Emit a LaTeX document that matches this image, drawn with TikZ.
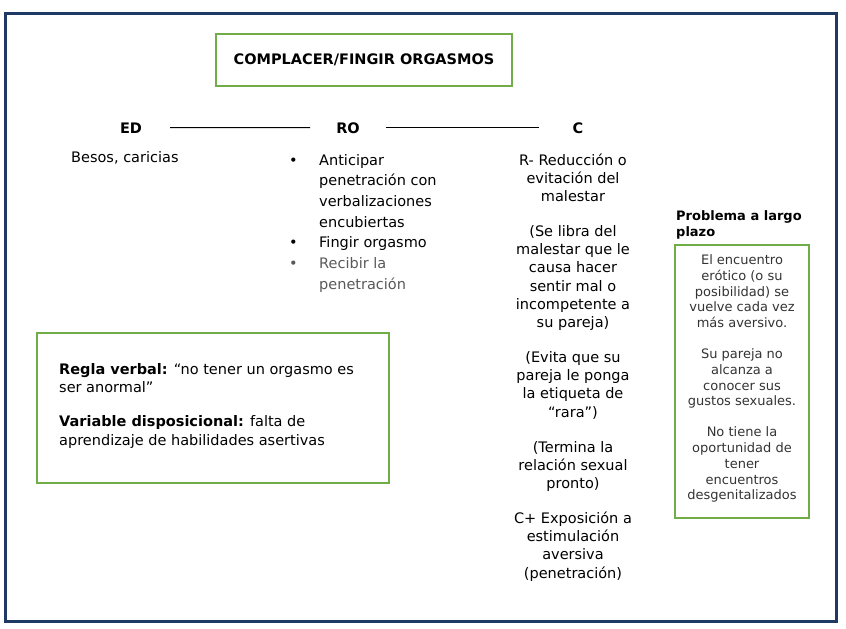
\documentclass[tikz,border=0pt]{standalone}
\usepackage{fontspec}
\setmainfont{DejaVu Sans}
\definecolor{framenavy}{RGB}{31,56,100}
\definecolor{boxgreen}{RGB}{112,173,71}
\definecolor{softgray}{RGB}{89,89,89}
\tikzset{
  greenbox/.style={draw=boxgreen, line width=1.6pt, inner sep=0pt},
  header/.style={font=\fontsize{14.5}{17}\selectfont\bfseries, inner sep=0pt, anchor=base},
  body/.style={font=\fontsize{14.5}{18.2}\selectfont, inner sep=0pt},
}
\newcommand{\robullet}{\makebox[30pt][l]{\textbullet}}
\begin{document}
\begin{tikzpicture}[x=1pt,y=-1pt]
\useasboundingbox (0,0) rectangle (846,629);
% frame
\draw[framenavy, line width=3pt] (5,13) rectangle (836,621);
% title
\node[greenbox, minimum width=296pt, minimum height=52pt, font=\fontsize{14.5}{17}\selectfont\bfseries] (title) at (364,60) {COMPLACER/FINGIR ORGASMOS};
% headers
\node[header] (ed) at (131,133) {ED};
\node[header] (ro) at (348,133) {RO};
\node[header] (c) at (578,133) {C};
\draw[line width=1pt, shorten <=28pt, shorten >=26pt] (ed.east) -- (ro.west);
\draw[line width=1pt, shorten <=26pt, shorten >=33pt] (ro.east) -- (c.west);
% ED
\node[body, anchor=base west] (edtext) at (71,162) {Besos, caricias};
% RO
\node[body, anchor=base west, font=\fontsize{14.5}{20.7}\selectfont] (rotext) at (289,165) {\begin{tabular}[t]{@{}l@{}l@{}}
\robullet & Anticipar\\
 & penetración con\\
 & verbalizaciones\\
 & encubiertas\\
\robullet & Fingir orgasmo\\
\textcolor{softgray}{\robullet} & \textcolor{softgray}{Recibir la}\\
 & \textcolor{softgray}{penetración}
\end{tabular}};
% C
\node[body, anchor=base] (ctext) at (573,165) {\begin{tabular}[t]{@{}c@{}}
R- Reducción o\\ evitación del\\ malestar\\[16.8pt]
(Se libra del\\ malestar que le\\ causa hacer\\ sentir mal o\\ incompetente a\\ su pareja)\\[16.8pt]
(Evita que su\\ pareja le ponga\\ la etiqueta de\\ “rara”)\\[16.8pt]
(Termina la\\ relación sexual\\ pronto)\\[16.8pt]
C+ Exposición a\\ estimulación\\ aversiva\\ (penetración)
\end{tabular}};
% long term problem
\node[font=\fontsize{13}{16}\selectfont\bfseries, anchor=base west, inner sep=0pt] (probhead) at (676,220) {\begin{tabular}[t]{@{}l@{}}Problema a largo\\ plazo\end{tabular}};
\node[greenbox, minimum width=134pt, minimum height=273pt] (probbox) at (742,381.5) {};
\node[anchor=base, inner sep=0pt, text=black!80, font=\fontsize{13}{15.8}\selectfont] (probtext) at (742,264.5) {\begin{tabular}[t]{@{}c@{}}
El encuentro\\ erótico (o su\\ posibilidad) se\\ vuelve cada vez\\ más aversivo.\\[15pt]
Su pareja no\\ alcanza a\\ conocer sus\\ gustos sexuales.\\[15pt]
No tiene la\\ oportunidad de\\ tener\\ encuentros\\ desgenitalizados
\end{tabular}};
% verbal rule box
\node[greenbox, minimum width=352pt, minimum height=150pt] (rulebox) at (213,408) {};
\node[anchor=base west, inner sep=0pt, font=\fontsize{14.5}{18.5}\selectfont] (ruletext) at (59,374) {\begin{tabular}[t]{@{}l@{}}
\textbf{Regla verbal:} “no tener un orgasmo es\\ ser anormal”\\[15.5pt]
\textbf{Variable disposicional:} falta de\\ aprendizaje de habilidades asertivas
\end{tabular}};
\end{tikzpicture}
\end{document}
